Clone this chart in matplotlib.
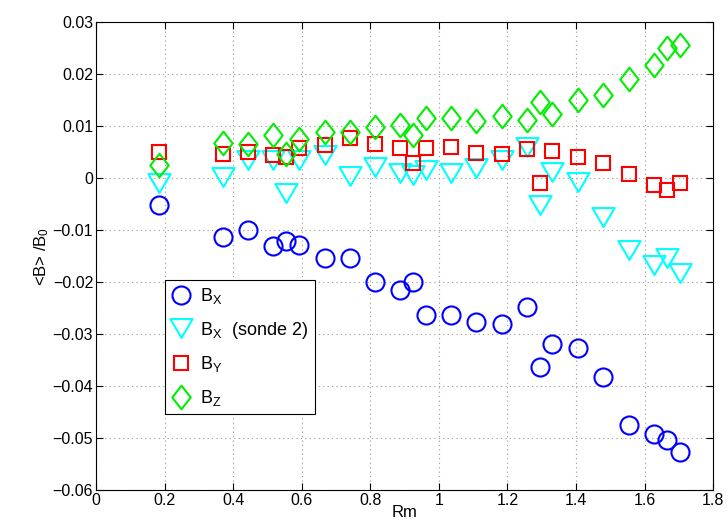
import numpy as np
import matplotlib
matplotlib.use("Agg")
import matplotlib.pyplot as plt
from matplotlib.path import Path

plt.rcParams['font.family'] = ['Liberation Sans', 'DejaVu Sans']
plt.rcParams['mathtext.fontset'] = 'custom'
plt.rcParams['mathtext.rm'] = 'Liberation Sans'
plt.rcParams['mathtext.it'] = 'Liberation Sans'

# ── data ────────────────────────────────────────────────────────────────
rm = [0.185, 0.370, 0.444, 0.517, 0.555, 0.593, 0.667, 0.740, 0.815, 0.888,
      0.925, 0.963, 1.036, 1.109, 1.183, 1.257, 1.295, 1.331, 1.405, 1.480,
      1.554, 1.628, 1.665, 1.703]
bx = [-0.0052, -0.0113, -0.0100, -0.0131, -0.0121, -0.0129, -0.0154, -0.0154,
      -0.0200, -0.0215, -0.0200, -0.0263, -0.0263, -0.0276, -0.0280, -0.0248,
      -0.0363, -0.0319, -0.0326, -0.0382, -0.0474, -0.0493, -0.0503, -0.0526]
bx2 = [-0.0010, 0.0003, 0.0036, 0.0036, -0.0028, 0.0035, 0.0044, 0.0004,
       0.0022, 0.0010, 0.0006, 0.0015, 0.0010, 0.0020, 0.0035, 0.0060,
       -0.0052, 0.0012, -0.0007, -0.0074, -0.0138, -0.0167, -0.0154, -0.0182]
by = [0.0050, 0.0047, 0.0050, 0.0045, 0.0041, 0.0059, 0.0063, 0.0078,
      0.0065, 0.0059, 0.0029, 0.0058, 0.0060, 0.0049, 0.0047, 0.0056,
      -0.0009, 0.0052, 0.0041, 0.0029, 0.0009, -0.0013, -0.0022, -0.0009]
bz = [0.0025, 0.0067, 0.0065, 0.0083, 0.0047, 0.0076, 0.0089, 0.0088,
      0.0098, 0.0102, 0.0084, 0.0116, 0.0116, 0.0110, 0.0120, 0.0113,
      0.0146, 0.0124, 0.0150, 0.0161, 0.0191, 0.0218, 0.0250, 0.0257]

# MATLAB-like markers
tri = Path([(-1, 0.85), (1, 0.85), (0, -0.85), (-1, 0.85)],
           [Path.MOVETO, Path.LINETO, Path.LINETO, Path.CLOSEPOLY])
dia = Path([(0, 1), (0.78, 0), (0, -1), (-0.78, 0), (0, 1)],
           [Path.MOVETO, Path.LINETO, Path.LINETO, Path.LINETO, Path.CLOSEPOLY])

fig = plt.figure(figsize=(7.27, 5.32), dpi=100)
ax = fig.add_axes([0.132, 0.079, 0.849, 0.879])

mew = 1.5
ax.plot(rm, bx, ls='none', marker='o', ms=13, mfc='none', mec='#0000ff', mew=mew,
        label='B$_X$')
ax.plot(rm, bx2, ls='none', marker=tri, ms=16, mfc='none', mec='#00ffff', mew=mew,
        label='B$_X$  (sonde 2)')
ax.plot(rm, by, ls='none', marker='s', ms=10.5, mfc='none', mec='#ff0000', mew=mew,
        label='B$_Y$')
ax.plot(rm, bz, ls='none', marker=dia, ms=17, mfc='none', mec='#00ee00', mew=mew,
        label='B$_Z$')

ax.set_xlim(0, 1.8)
ax.set_ylim(-0.06, 0.03)
ax.set_xticks(np.arange(0, 1.81, 0.2))
ax.set_yticks(np.arange(-0.06, 0.031, 0.01))
ax.set_xticklabels(['0', '0.2', '0.4', '0.6', '0.8', '1', '1.2', '1.4', '1.6', '1.8'])
ax.set_yticklabels(['\u22120.06', '\u22120.05', '\u22120.04', '\u22120.03', '\u22120.02',
                    '\u22120.01', '0', '0.01', '0.02', '0.03'])
ax.tick_params(direction='in', top=True, right=True, labelsize=11.5, length=5, width=0.8,
               pad=2)
ax.grid(True, ls=(0, (1, 3)), color='#999999', lw=0.8)
for sp in ax.spines.values():
    sp.set_linewidth(0.8)

ax.set_xlabel('Rm', fontsize=12, labelpad=-2)
ax.set_ylabel('<B> /B$_0$', fontsize=12, labelpad=1)

leg = ax.legend(loc='lower left', bbox_to_anchor=(0.112, 0.162), fontsize=13,
                frameon=True, fancybox=False, edgecolor='black', framealpha=1,
                handlelength=1.1, handletextpad=0.5, labelspacing=0.75,
                borderpad=0.35, borderaxespad=0)
leg.get_frame().set_linewidth(0.8)

fig.savefig('out.png', dpi=100)
